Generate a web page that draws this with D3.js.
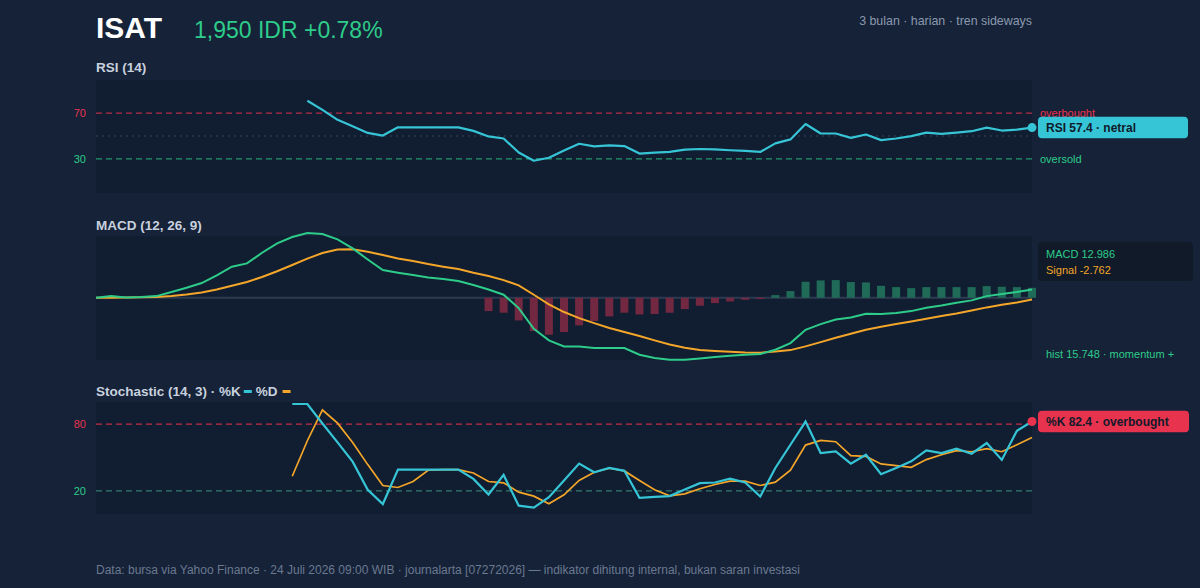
<!DOCTYPE html>
<html>
<head>
  <meta charset="utf-8">
  <title>ISAT indikator teknikal</title>
  <style>
    body { margin: 0; background: #152238; }
    svg { display: block; font-family: "Helvetica Neue", Helvetica, Arial, "Liberation Sans", sans-serif; }
  </style>
</head>
<body>
  <svg width="1200" height="588"></svg>
  <script src="https://cdn.jsdelivr.net/npm/d3@7/dist/d3.min.js"></script>
  <script>
  // 1. data (63 sesi harian, null = belum ada nilai)
  var rsi = [null, null, null, null, null, null, null, null, null, null, null, null, null, null,
    80.9, 72.9, 64.2, 58.5, 52.7, 50.4, 57.6, 57.6, 57.6, 57.6, 57.6, 54.5, 49.6, 47.8, 35.5, 28.3,
    30.9, 37.2, 43.2, 40.9, 41.8, 41.2, 34.6, 35.5, 36.0, 38.1, 38.6, 38.3, 37.5, 36.9, 36.0, 43.5,
    47.0, 60.5, 52.2, 52.2, 48.4, 51.3, 46.4, 47.8, 49.9, 53.0, 51.9, 53.0, 54.2, 57.3, 54.8, 55.6, 57.4];

  var macd = [0, 2.6, 0.5, 1.1, 2.6, 9.0, 15.9, 23.3, 35.4, 49.2, 54.5, 71.4, 86.2, 96.3, 102.6, 101,
    92.6, 78.3, 60.8, 43.9, 39.7, 36, 32.3, 29.6, 26.5, 20.1, 13.2, 4.8, -16.4, -49.2, -67.7, -77.2,
    -77.2, -79.9, -79.9, -79.9, -90.5, -95.7, -98.4, -98.4, -96.3, -94.2, -92, -90.5, -89.4, -82.5,
    -71.9, -50.8, -41.8, -34.4, -31.2, -25.4, -25.9, -24.3, -21.2, -15.9, -12.2, -7.9, -4.2, 2.6, 5.8, 9.0, 12.986];

  var signal = [0, 0, 0.3, 0.6, 1.1, 2.6, 5, 8.5, 13, 19, 25, 33, 42, 52, 62, 71, 76.5, 77, 73, 67.7,
    62.4, 58.2, 53.4, 49.2, 45.5, 39.7, 34.5, 28, 19.6, 4.8, -10.6, -22.7, -32.3, -40.2, -48.1, -54.5,
    -60.8, -67.7, -74.1, -79.4, -83.1, -84.6, -85.7, -86.8, -87.3, -85.2, -83.1, -77.2, -70.4, -63.5,
    -57.1, -50.8, -46, -41.8, -37.6, -33.3, -29.1, -24.9, -20.1, -15.3, -11.1, -7.4, -2.762];

  var hist = [null, null, null, null, null, null, null, null, null, null, null, null, null,
    null, null, null, null, null, null, null, null, null, null, null, null, null,
    -21.2, -23.8, -36, -52.9, -58.7, -54.5, -43.9, -37, -29.6, -23.8, -26.5, -25.9, -23.8, -18,
    -12.7, -8.5, -5.8, -3.2, -2.1, 4.2, 10.6, 25.4, 27.5, 28, 24.9, 24.3, 19, 16.9, 15.3, 16.9,
    16.9, 16.9, 16.9, 18.5, 17.5, 16.9, 15.748];

  var stochK = [null, null, null, null, null, null, null, null, null, null, null, null, null,
    98.2, 98.2, 80.6, 63.6, 46.3, 20.9, 8.1, 39.1, 39.1, 39.1, 39.1, 39.1, 30.7, 16.7, 34.3, 6.6,
    4.8, 14.3, 29.3, 44.5, 36.7, 40.6, 38.0, 13.6, 14.5, 15.2, 21.2, 26.9, 27.5, 31.0, 27.5, 14.9,
    40.6, 61.5, 82.4, 54.0, 55.5, 44.5, 52.5, 34.9, 40.6, 46.6, 56.4, 54.0, 57.9, 53.4, 63.0, 47.8, 74.0, 82.4];

  var stochD = [null, null, null, null, null, null, null, null, null, null, null, null, null,
    33.1, 65.1, 92.8, 80.9, 63.6, 43.6, 24.8, 23.0, 28.4, 38.5, 39.1, 39.1, 36.1, 28.4, 27.2, 18.8,
    15.2, 8.4, 16.4, 29.3, 36.7, 40.3, 37.9, 29.3, 20.9, 15.5, 17.3, 21.8, 25.7, 28.7, 28.7, 24.8,
    27.8, 38.5, 61.2, 65.4, 64.2, 51.6, 51.0, 44.2, 42.7, 41.2, 48.1, 52.5, 56.1, 55.2, 57.9, 55.2, 61.5, 68.1];

  var rsiLevels = [70, 30];
  var stochLevels = [80, 20];

  // 2. warna & skala
  var C = {
    bg: "#152238", plot: "#111d30", text: "#c8d1de", muted: "#8b99ae", foot: "#6b7990",
    cyan: "#36c5d6", green: "#2ecc8a", orange: "#f4a62a", red: "#e8334f",
    redBar: "#722841", greenBar: "#1f6b58", dark: "#0f1a2a"
  };

  var svg = d3.select("svg");
  var left = 96, right = 1032;
  var x = d3.scaleLinear().domain([0, rsi.length - 1]).range([left, right]);

  var yRsi = d3.scaleLinear().domain([0, 100]).range([193, 79]);
  var yMacd = d3.scaleLinear().domain([-98, 98]).range([359.5, 236]);
  var yStoch = d3.scaleLinear().domain([0, 100]).range([513, 402]);

  function lineFor(y) {
    return d3.line()
      .defined(function(d) { return d != null; })
      .x(function(d, i) { return x(i); })
      .y(function(d) { return y(d); });
  }

  // header
  svg.append("text").attr("x", 96).attr("y", 38)
    .style("font-size", "30px").style("font-weight", "bold").style("fill", "#ffffff")
    .text("ISAT");
  svg.append("text").attr("x", 194).attr("y", 38)
    .style("font-size", "23px").style("fill", C.green)
    .text("1,950 IDR +0.78%");
  svg.append("text").attr("x", 1032).attr("y", 25).attr("text-anchor", "end")
    .style("font-size", "12.4px").style("fill", C.muted)
    .text("3 bulan · harian · tren sideways");

  function panelTitle(y, t) {
    return svg.append("text").attr("x", 96).attr("y", y)
      .style("font-size", "13.5px").style("font-weight", "bold").style("fill", C.text)
      .text(t);
  }

  function plotBg(y0, y1) {
    svg.append("rect").attr("x", left).attr("y", y0)
      .attr("width", right - left).attr("height", y1 - y0)
      .attr("fill", C.plot);
  }

  function hLine(y, color, dash, op) {
    svg.append("line").attr("x1", left).attr("x2", right).attr("y1", y).attr("y2", y)
      .attr("stroke", color).attr("stroke-width", 1.2).attr("stroke-dasharray", dash)
      .attr("opacity", op);
  }

  function badge(yv, color, label, w) {
    svg.append("circle").attr("cx", right).attr("cy", yv).attr("r", 4.5).attr("fill", color);
    svg.append("rect").attr("x", 1038).attr("y", yv - 10.8).attr("width", w).attr("height", 21.6)
      .attr("rx", 4).attr("fill", color);
    svg.append("text").attr("x", 1046).attr("y", yv).attr("dy", "0.35em")
      .style("font-size", "12px").style("font-weight", "bold").style("fill", C.dark)
      .text(label);
  }

  // 3. RSI
  panelTitle(72, "RSI (14)");
  plotBg(80, 193);
  hLine(yRsi(50), "#3b475a", "2,4", 0.9);
  hLine(yRsi(rsiLevels[0]), C.red, "6,4", 0.75);
  hLine(yRsi(rsiLevels[1]), C.green, "6,4", 0.7);
  svg.selectAll(".rsiTick").data(rsiLevels).enter().append("text")
    .attr("x", 86).attr("y", function(d) { return yRsi(d); }).attr("dy", "0.35em")
    .attr("text-anchor", "end").style("font-size", "11px")
    .style("fill", function(d, i) { return i == 0 ? C.red : C.green; })
    .text(function(d) { return d; });
  svg.append("text").attr("x", 1040).attr("y", yRsi(70)).attr("dy", "0.3em")
    .style("font-size", "11px").style("fill", C.red).text("overbought");
  svg.append("text").attr("x", 1040).attr("y", yRsi(30)).attr("dy", "0.35em")
    .style("font-size", "11px").style("fill", C.green).text("oversold");
  svg.append("path").datum(rsi).attr("d", lineFor(yRsi))
    .attr("fill", "none").attr("stroke", C.cyan).attr("stroke-width", 2.2)
    .attr("stroke-linejoin", "round");
  badge(yRsi(rsi[rsi.length - 1]), C.cyan, "RSI 57.4 · netral", 150);

  // 4. MACD
  panelTitle(230, "MACD (12, 26, 9)");
  plotBg(236, 360);
  svg.append("line").attr("x1", left).attr("x2", right)
    .attr("y1", yMacd(0)).attr("y2", yMacd(0))
    .attr("stroke", "#2d3a4f").attr("stroke-width", 2);

  var histBars = hist.map(function(v, i) { return { i: i, v: v }; })
    .filter(function(d) { return d.v != null; });
  svg.selectAll(".bar").data(histBars).enter().append("rect")
    .attr("x", function(d) { return x(d.i) - 4; })
    .attr("width", 8)
    .attr("y", function(d) { return d.v > 0 ? yMacd(d.v) : yMacd(0); })
    .attr("height", function(d) { return Math.abs(yMacd(d.v) - yMacd(0)); })
    .attr("fill", function(d) { return d.v > 0 ? C.greenBar : C.redBar; });

  svg.append("path").datum(signal).attr("d", lineFor(yMacd))
    .attr("fill", "none").attr("stroke", C.orange).attr("stroke-width", 2);
  svg.append("path").datum(macd).attr("d", lineFor(yMacd))
    .attr("fill", "none").attr("stroke", C.green).attr("stroke-width", 2);

  svg.append("rect").attr("x", 1038).attr("y", 242).attr("width", 155).attr("height", 39)
    .attr("rx", 4).attr("fill", "#101a29");
  svg.append("text").attr("x", 1046).attr("y", 258)
    .style("font-size", "11px").style("fill", C.green).text("MACD 12.986");
  svg.append("text").attr("x", 1046).attr("y", 274)
    .style("font-size", "11px").style("fill", C.orange).text("Signal -2.762");
  svg.append("text").attr("x", 1046).attr("y", 358)
    .style("font-size", "11px").style("fill", C.green).text("hist 15.748 · momentum +");

  // 5. Stochastic
  var st = panelTitle(396, "Stochastic (14, 3) · %K");
  var w1 = st.node().getComputedTextLength();
  svg.append("rect").attr("x", 96 + w1 + 3).attr("y", 390).attr("width", 8).attr("height", 3)
    .attr("fill", C.cyan);
  var st2 = svg.append("text").attr("x", 96 + w1 + 15).attr("y", 396)
    .style("font-size", "13.5px").style("font-weight", "bold").style("fill", C.text)
    .text("%D");
  var w2 = st2.node().getComputedTextLength();
  svg.append("rect").attr("x", 96 + w1 + 15 + w2 + 5).attr("y", 390).attr("width", 8).attr("height", 3)
    .attr("fill", C.orange);

  plotBg(402, 514);
  hLine(yStoch(stochLevels[0]), C.red, "6,4", 0.8);
  hLine(yStoch(stochLevels[1]), "#3f9a80", "6,4", 0.75);
  svg.selectAll(".stTick").data(stochLevels).enter().append("text")
    .attr("x", 86).attr("y", function(d) { return yStoch(d); }).attr("dy", "0.35em")
    .attr("text-anchor", "end").style("font-size", "11px")
    .style("fill", function(d, i) { return i == 0 ? C.red : C.green; })
    .text(function(d) { return d; });
  svg.append("path").datum(stochD).attr("d", lineFor(yStoch))
    .attr("fill", "none").attr("stroke", C.orange).attr("stroke-width", 1.7);
  svg.append("path").datum(stochK).attr("d", lineFor(yStoch))
    .attr("fill", "none").attr("stroke", C.cyan).attr("stroke-width", 2.2);
  badge(yStoch(stochK[stochK.length - 1]), C.red, "%K 82.4 · overbought", 151);

  // footer
  svg.append("text").attr("x", 96).attr("y", 574)
    .style("font-size", "12px").style("fill", C.foot)
    .text("Data: bursa via Yahoo Finance · 24 Juli 2026 09:00 WIB · journalarta [07272026] — indikator dihitung internal, bukan saran investasi");
  </script>
</body>
</html>
